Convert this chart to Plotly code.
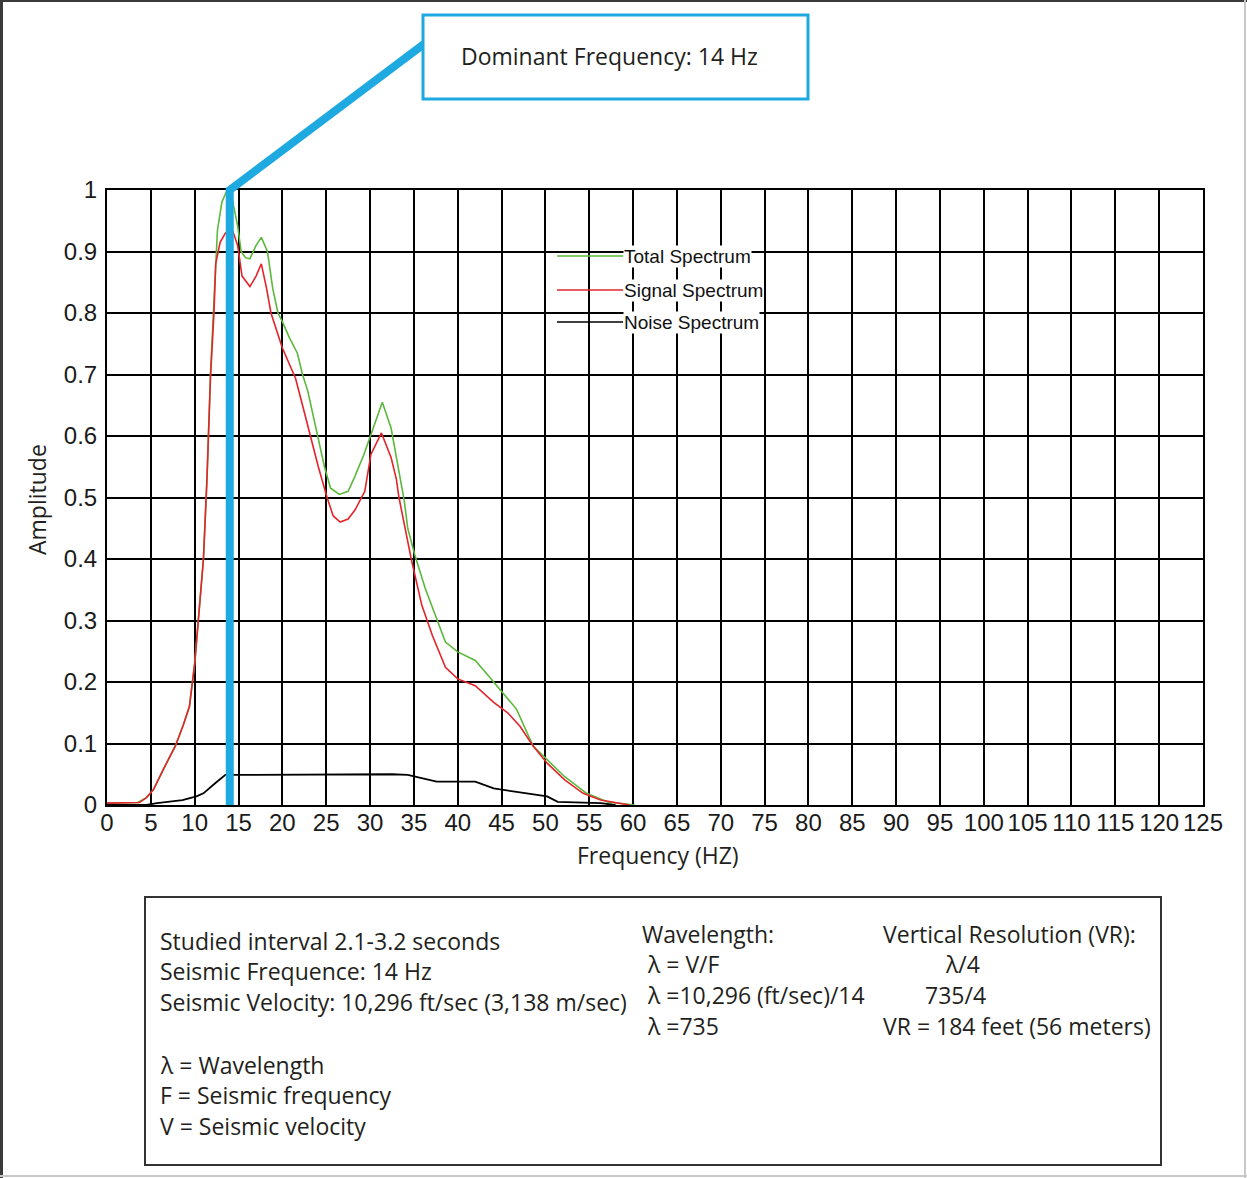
import plotly.graph_objects as go

# ---------------- data ----------------
total_freq = [0, 2, 3.5, 4.5, 5.3, 6.5, 7.8, 8.7, 9.4, 10, 10.4, 11, 11.4, 11.8, 12.2, 12.6, 13.1, 13.7,
              14.2, 14.9, 15.3, 15.8, 16.3, 17, 17.6, 18.3, 18.9, 19.5, 20, 20.8, 21.7, 22.3, 22.9, 24,
              24.8, 25.5, 26.5, 27.5, 28.2, 29.3, 30.3, 31.4, 32.4, 33.3, 33.9, 34.3, 35.1, 36.3, 37.6,
              38.6, 40, 42, 43.5, 45.3, 46.7, 48.6, 50.2, 52.2, 54.7, 57.1, 60.2]
total_amp = [0.003, 0.003, 0.004, 0.012, 0.025, 0.06, 0.096, 0.13, 0.16, 0.23, 0.30, 0.40, 0.53, 0.70,
             0.82, 0.935, 0.98, 1.0, 0.99, 0.942, 0.90, 0.89, 0.888, 0.91, 0.923, 0.90, 0.84, 0.80,
             0.786, 0.76, 0.735, 0.70, 0.673, 0.602, 0.55, 0.515, 0.505, 0.51, 0.532, 0.57, 0.61, 0.655,
             0.613, 0.543, 0.495, 0.45, 0.407, 0.352, 0.303, 0.265, 0.249, 0.235, 0.21, 0.18, 0.156,
             0.096, 0.074, 0.046, 0.019, 0.005, 0.0]

signal_freq = [0, 2, 3.7, 4.5, 5.3, 6.5, 7.8, 8.7, 9.4, 10, 10.4, 11, 11.4, 11.8, 12.2, 12.4, 12.9, 13.5,
               14.3, 14.9, 15.4, 16.3, 17, 17.6, 18.2, 18.7, 20, 20.7, 21.5, 22.3, 23.2, 24.1, 25.1,
               25.8, 26.6, 27.5, 28.3, 29.4, 30.1, 31.3, 32.4, 33.0, 33.3, 34.7, 35.9, 37.1, 38.6, 40,
               42, 44.1, 45.7, 47.1, 48.6, 50.2, 52.2, 54.3, 56.3, 59.6]
signal_amp = [0.003, 0.003, 0.004, 0.012, 0.025, 0.06, 0.096, 0.13, 0.16, 0.23, 0.30, 0.40, 0.53, 0.694,
              0.80, 0.88, 0.915, 0.93, 0.935, 0.91, 0.86, 0.843, 0.86, 0.88, 0.84, 0.80, 0.743, 0.72,
              0.694, 0.65, 0.60, 0.55, 0.50, 0.47, 0.46, 0.465, 0.48, 0.51, 0.57, 0.605, 0.565, 0.53,
              0.50, 0.40, 0.325, 0.276, 0.224, 0.205, 0.194, 0.167, 0.15, 0.128, 0.096, 0.068, 0.041,
              0.019, 0.008, 0.0]

noise_freq = [0, 4.5, 5.7, 8.6, 10.2, 11, 12.3, 13.5, 15.1, 29.8, 32.5, 34.3, 37.6, 42, 44.1, 50.2,
              51.4, 56.3, 58]
noise_amp = [0.0, 0.0, 0.003, 0.008, 0.014, 0.019, 0.035, 0.049, 0.049, 0.05, 0.05, 0.049, 0.038,
             0.038, 0.027, 0.014, 0.005, 0.003, 0.0]

x_ticks = list(range(0, 130, 5))
y_ticks = [0, 0.1, 0.2, 0.3, 0.4, 0.5, 0.6, 0.7, 0.8, 0.9, 1]
x_range = [0, 125]
y_range = [0, 1]
dominant_freq = 14

series_names = ["Total Spectrum", "Signal Spectrum", "Noise Spectrum"]
series_colors = ["#5cb83c", "#e3242b", "#000000"]

info_col1 = ["Studied interval 2.1-3.2 seconds", "Seismic Frequence: 14 Hz",
             "Seismic Velocity: 10,296 ft/sec (3,138 m/sec)"]
info_col1b = ["λ = Wavelength", "F = Seismic frequency", "V = Seismic velocity"]
info_col2 = ["Wavelength:", "\u00a0λ = V/F", "\u00a0λ =10,296 (ft/sec)/14", "\u00a0λ =735"]
info_col3 = ["Vertical Resolution (VR):", "λ/4", "735/4", "VR = 184 feet (56 meters)"]

# ---------------- layout geometry ----------------
W, H = 1247, 1178
L, R, T, B = 107, 44, 190, 373
PW = W - L - R
PH = H - T - B
PLOT_BOTTOM = H - B


def px(xp):
    return (xp - L) / PW


def py(yp):
    return (PLOT_BOTTOM - yp) / PH


BLUE = "#1fa9e1"
TXT = "#231f20"
ANN_FONT = "Open Sans"
ANN_SIZE = 23

fig = go.Figure()
fig.add_trace(go.Scatter(x=noise_freq, y=noise_amp, mode="lines", name=series_names[2],
                         line=dict(color=series_colors[2], width=1.8)))
fig.add_trace(go.Scatter(x=total_freq, y=total_amp, mode="lines", name=series_names[0],
                         line=dict(color=series_colors[0], width=1.6)))
fig.add_trace(go.Scatter(x=signal_freq, y=signal_amp, mode="lines", name=series_names[1],
                         line=dict(color=series_colors[1], width=1.6)))

shapes = []
annotations = []

# dominant frequency marker line + callout
fx = (dominant_freq - x_range[0]) / (x_range[1] - x_range[0])
shapes.append(dict(type="path", xref="paper", yref="paper", layer="above",
                   path=f"M {fx},0 L {fx},1 L {px(424)},{py(44)}",
                   line=dict(color=BLUE, width=8)))
shapes.append(dict(type="rect", xref="paper", yref="paper", layer="above",
                   x0=px(423), x1=px(808), y0=py(99), y1=py(15),
                   line=dict(color=BLUE, width=3), fillcolor="white"))
annotations.append(dict(xref="paper", yref="paper", x=px(609), y=py(56), showarrow=False,
                        xanchor="center", yanchor="middle",
                        text=f"Dominant Frequency: {dominant_freq} Hz",
                        font=dict(family=ANN_FONT, size=ANN_SIZE, color=TXT)))

# legend (drawn manually)
leg_y = [256, 290, 322]
for name, color, yy in zip(series_names, series_colors, leg_y):
    shapes.append(dict(type="line", xref="paper", yref="paper", layer="above",
                       x0=px(557), x1=px(623), y0=py(yy), y1=py(yy),
                       line=dict(color=color, width=1.6)))
    annotations.append(dict(xref="paper", yref="paper", x=px(623), y=py(yy), showarrow=False,
                            xanchor="left", yanchor="middle", text=name, bgcolor="white",
                            borderpad=0,
                            font=dict(family="Liberation Sans", size=19, color="#111111")))

# axis titles
annotations.append(dict(xref="paper", yref="paper", x=px(37), y=py(500), showarrow=False,
                        xanchor="center", yanchor="middle",
                        text="Amplitude", textangle=-90,
                        font=dict(family=ANN_FONT, size=ANN_SIZE, color=TXT)))
annotations.append(dict(xref="paper", yref="paper", x=px(658), y=py(855), showarrow=False,
                        xanchor="center", yanchor="middle",
                        text="Frequency (HZ)",
                        font=dict(family=ANN_FONT, size=ANN_SIZE, color=TXT)))

# info box
shapes.append(dict(type="rect", xref="paper", yref="paper", layer="above",
                   x0=px(145), x1=px(1161), y0=py(1165), y1=py(897),
                   line=dict(color="#333333", width=2), fillcolor="rgba(0,0,0,0)"))
info_font = dict(family=ANN_FONT, size=ANN_SIZE, color=TXT)
for txt, yy in zip(info_col1, [941, 971, 1002]):
    annotations.append(dict(xref="paper", yref="paper", x=px(158), y=py(yy), showarrow=False,
                            xanchor="left", yanchor="middle", text=txt, font=info_font))
for txt, yy in zip(info_col1b, [1065, 1095, 1126]):
    annotations.append(dict(xref="paper", yref="paper", x=px(158), y=py(yy), showarrow=False,
                            xanchor="left", yanchor="middle", text=txt, font=info_font))
for txt, yy in zip(info_col2, [934, 964, 995, 1026]):
    annotations.append(dict(xref="paper", yref="paper", x=px(640), y=py(yy), showarrow=False,
                            xanchor="left", yanchor="middle", text=txt, font=info_font))
col3_x = [(881, "left"), (962, "center"), (955, "center"), (881, "left")]
for txt, yy, (xx, anc) in zip(info_col3, [934, 964, 995, 1026], col3_x):
    annotations.append(dict(xref="paper", yref="paper", x=px(xx), y=py(yy), showarrow=False,
                            xanchor=anc, yanchor="middle", text=txt, font=info_font))

# outer frame of the figure
shapes.append(dict(type="line", xref="paper", yref="paper", x0=px(1.5), x1=px(1.5), y0=py(0), y1=py(1178),
                   line=dict(color="#3a3a3a", width=3)))
shapes.append(dict(type="line", xref="paper", yref="paper", x0=px(0), x1=px(1247), y0=py(1), y1=py(1),
                   line=dict(color="#3a3a3a", width=2)))
shapes.append(dict(type="line", xref="paper", yref="paper", x0=px(1245), x1=px(1245), y0=py(0), y1=py(1178),
                   line=dict(color="#c8c8c8", width=2)))
shapes.append(dict(type="line", xref="paper", yref="paper", x0=px(0), x1=px(1247), y0=py(1176), y1=py(1176),
                   line=dict(color="#c8c8c8", width=2)))

fig.update_layout(
    width=W, height=H,
    margin=dict(l=L, r=R, t=T, b=B, pad=0),
    paper_bgcolor="white", plot_bgcolor="white",
    showlegend=False,
    shapes=shapes, annotations=annotations,
    xaxis=dict(range=x_range, tickvals=x_ticks, ticktext=[str(v) for v in x_ticks],
               showgrid=True, gridcolor="black", gridwidth=2, zeroline=False,
               showline=True, linecolor="black", linewidth=2, mirror=True, ticks="",
               ticklabelstandoff=-5,
               tickangle=0, tickfont=dict(family="Liberation Sans", size=24, color="#1a1a1a")),
    yaxis=dict(range=y_range, tickvals=y_ticks, ticktext=[f"{v:g}" for v in y_ticks],
               showgrid=True, gridcolor="black", gridwidth=2, zeroline=False,
               showline=True, linecolor="black", linewidth=2,
               mirror=True, ticks="", ticklabelstandoff=3,
               tickfont=dict(family="Liberation Sans", size=24, color="#1a1a1a")),
)

fig.write_html("out.html", config={"displayModeBar": False},
               post_script="document.body.style.margin='0';document.body.style.padding='0';")
